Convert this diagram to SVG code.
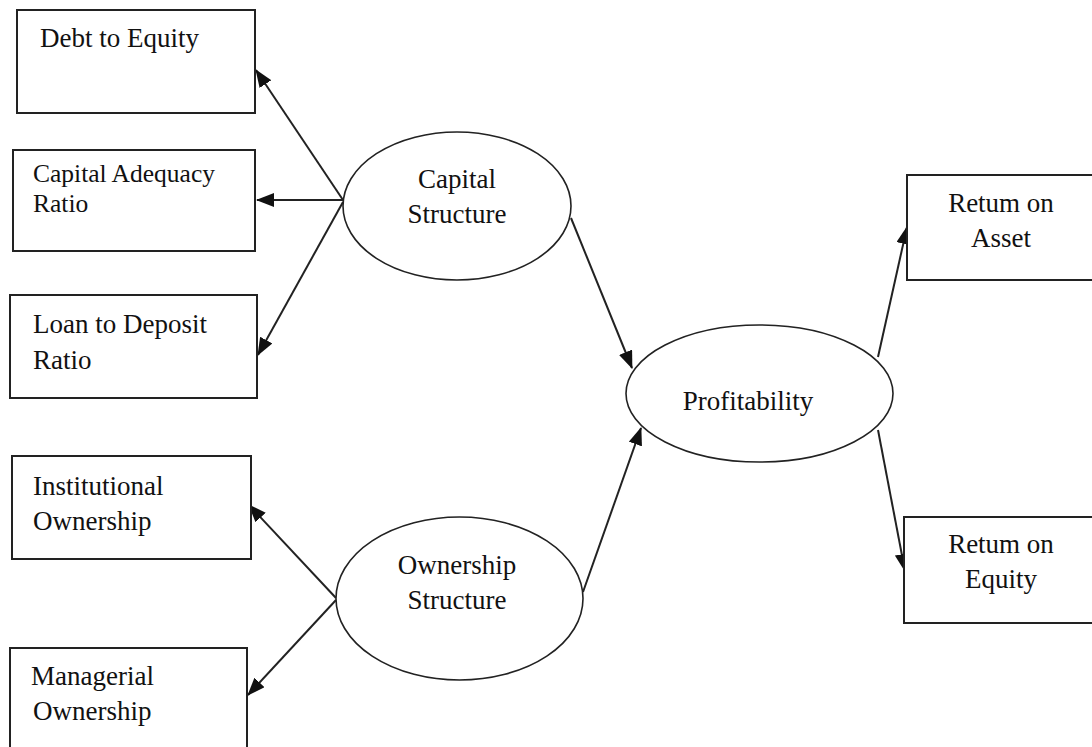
<svg xmlns="http://www.w3.org/2000/svg" width="1092" height="747" viewBox="0 0 1092 747">
<style>
.box{fill:#fff;stroke:#222;stroke-width:2}
.ell{fill:#fff;stroke:#222;stroke-width:1.6}
.t{font-family:"Liberation Serif","Times New Roman",serif;font-size:27px;fill:#111}
.s{font-size:25.5px}
.m{text-anchor:middle}
.c{stroke:#222;stroke-width:2;fill:none;marker-end:url(#ah)}
</style>
<defs>
<marker id="ah" markerUnits="userSpaceOnUse" markerWidth="18" markerHeight="14" refX="17" refY="7" orient="auto">
<path d="M0,0 L18,7 L0,14 z" fill="#111"/>
</marker>
</defs>
<rect width="1092" height="747" fill="#fff"/>
<g id="connectors">
<line class="c" x1="343" y1="200" x2="256" y2="70"/>
<line class="c" x1="343" y1="200" x2="257" y2="200"/>
<line class="c" x1="343" y1="202" x2="258" y2="355"/>
<line class="c" x1="336" y1="598" x2="249" y2="505"/>
<line class="c" x1="336" y1="600" x2="248" y2="695"/>
<line class="c" x1="571" y1="218" x2="632" y2="368"/>
<line class="c" x1="583" y1="592" x2="641" y2="428"/>
<line class="c" x1="878" y1="357" x2="907" y2="227"/>
<line class="c" x1="878" y1="430" x2="905" y2="571"/>
</g>
<g id="debt-to-equity">
<rect class="box" x="17" y="10" width="238" height="103"/>
<text class="t" x="40" y="47">Debt to Equity</text>
</g>
<g id="capital-adequacy-ratio">
<rect class="box" x="13" y="150" width="242" height="101"/>
<text class="t s" x="33" y="182">Capital Adequacy</text>
<text class="t s" x="33" y="212">Ratio</text>
</g>
<g id="loan-to-deposit-ratio">
<rect class="box" x="10" y="295" width="247" height="103"/>
<text class="t" x="33" y="333">Loan to Deposit</text>
<text class="t" x="33" y="369">Ratio</text>
</g>
<g id="institutional-ownership">
<rect class="box" x="12" y="456" width="239" height="103"/>
<text class="t" x="33" y="495">Institutional</text>
<text class="t" x="33" y="530">Ownership</text>
</g>
<g id="managerial-ownership">
<rect class="box" x="10" y="648" width="237" height="115"/>
<text class="t" x="31" y="685">Managerial</text>
<text class="t" x="33" y="720">Ownership</text>
</g>
<g id="capital-structure">
<ellipse class="ell" cx="457" cy="206" rx="114" ry="74"/>
<text class="t m" x="457" y="188">Capital</text>
<text class="t m" x="457" y="223">Structure</text>
</g>
<g id="ownership-structure">
<ellipse class="ell" cx="459.5" cy="598.5" rx="123.5" ry="81.5"/>
<text class="t m" x="457" y="574">Ownership</text>
<text class="t m" x="457" y="609">Structure</text>
</g>
<g id="profitability">
<ellipse class="ell" cx="759.5" cy="393.5" rx="133.5" ry="68.5"/>
<text class="t m" x="748" y="410">Profitability</text>
</g>
<g id="return-on-asset">
<rect class="box" x="907" y="175" width="200" height="105"/>
<text class="t m" x="1001" y="212">Retum on</text>
<text class="t m" x="1001" y="247">Asset</text>
</g>
<g id="return-on-equity">
<rect class="box" x="904" y="517" width="200" height="106"/>
<text class="t m" x="1001" y="553">Retum on</text>
<text class="t m" x="1001" y="588">Equity</text>
</g>
</svg>
